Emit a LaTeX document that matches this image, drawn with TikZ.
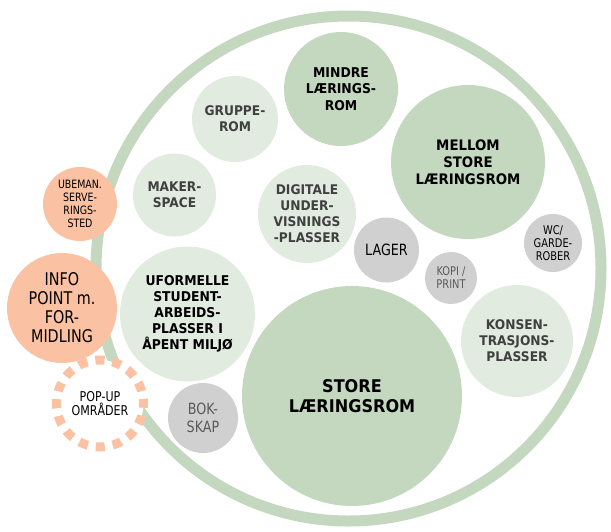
\documentclass[tikz,border=0pt]{standalone}
\usepackage{fontspec}
\setmainfont{DejaVu Sans}[FakeStretch=0.82]
\newfontfamily\bd{DejaVu Sans}[FakeStretch=0.92]

\definecolor{ringc}{RGB}{196,215,191}
\definecolor{darkg}{RGB}{196,215,191}
\definecolor{lightg}{RGB}{226,235,224}
\definecolor{greyc}{RGB}{208,208,208}
\definecolor{salmon}{RGB}{251,193,163}
\definecolor{txtdark}{RGB}{64,64,64}
\definecolor{txtgrey}{RGB}{90,90,90}

\tikzset{
  blob/.style={circle, inner sep=0pt, outer sep=0pt, draw=none},
  bigroom/.style={blob, fill=darkg},
  smallroom/.style={blob, fill=lightg},
  service/.style={blob, fill=greyc},
  outside/.style={blob, fill=salmon},
  popup/.style={circle, inner sep=0pt, fill=white, draw=salmon,
    line width=9pt, dash pattern=on 9.1pt off 8pt, dash phase=4.55pt},
  txt/.style={align=center, inner sep=0pt},
  bold/.style={txt, font=\bd\bfseries\fontsize{#1}{16}\selectfont},
}

\begin{document}
\begin{tikzpicture}[x=1pt, y=-1pt]
\useasboundingbox (0,0) rectangle (611,531);

% outer ring
\node[circle, draw=ringc, line width=11pt, minimum size=505pt, inner sep=0pt] (ring) at (348.5,268.5) {};

% rooms inside the ring
\node[bigroom, minimum size=114pt] (mindre) at (341,89) {};
\node[smallroom, minimum size=86pt] (gruppe) at (235,119) {};
\node[bigroom, minimum size=154pt] (mellom) at (468,162) {};
\node[smallroom, minimum size=83pt] (maker) at (174.5,195) {};
\node[smallroom, minimum size=98pt] (digitale) at (307,214) {};
\node[service, minimum size=65pt] (lager) at (386.5,250) {};
\node[service, minimum size=58pt] (wc) at (553,243) {};
\node[service, minimum size=52pt] (kopi) at (451,278) {};
\node[smallroom, minimum size=135pt] (uformelle) at (187.5,314) {};
\node[bigroom, minimum size=220pt] (store) at (352,396) {};
\node[smallroom, minimum size=112pt] (konsen) at (517,341) {};
\node[service, minimum size=70pt] (bokskap) at (203,418) {};

% areas outside the ring
\node[outside, minimum size=74pt] (ubeman) at (80,204) {};
\node[outside, minimum size=110pt] (info) at (62,308) {};
\node[popup, minimum size=87pt] (popup) at (100,403.5) {};

% labels
\node[txt, font=\bd\bfseries\fontsize{13.5}{16.5}\selectfont] (tmindre) at (mindre) {MINDRE\\LÆRINGS-\\ROM};
\node[txt, text=txtdark, font=\bd\bfseries\fontsize{13.3}{16}\selectfont] (tgruppe) at (gruppe) {GRUPPE-\\ROM};
\node[txt, font=\bd\bfseries\fontsize{14.5}{17}\selectfont] (tmellom) at (mellom) {MELLOM\\STORE\\LÆRINGSROM};
\node[txt, text=txtdark, font=\bd\bfseries\fontsize{13.3}{16}\selectfont] (tmaker) at (maker) {MAKER-\\SPACE};
\node[txt, text=txtdark, font=\bd\bfseries\fontsize{13.3}{16}\selectfont] (tdigitale) at (digitale) {DIGITALE\\UNDER-\\VISNINGS\\-PLASSER};
\node[txt, font=\fontsize{15.5}{18}\selectfont] (tlager) at (lager) {LAGER};
\node[txt, font=\fontsize{12}{13}\selectfont] (twc) at (wc) {WC/\\GARDE-\\ROBER};
\node[txt, text=txtgrey, font=\fontsize{12}{13}\selectfont] (tkopi) at (kopi) {KOPI /\\PRINT};
\node[txt, font=\bd\bfseries\fontsize{13.5}{16}\selectfont] (tuformelle) at (uformelle) {UFORMELLE\\STUDENT-\\ARBEIDS-\\PLASSER I\\ÅPENT MILJØ};
\node[txt, font=\bd\bfseries\fontsize{17.5}{20.7}\selectfont] (tstore) at (store) {STORE\\LÆRINGSROM};
\node[txt, text=txtdark, font=\bd\bfseries\fontsize{13.3}{16}\selectfont] (tkonsen) at (konsen) {KONSEN-\\TRASJONS-\\PLASSER};
\node[txt, text=txtgrey, font=\fontsize{15.5}{17.7}\selectfont] (tbokskap) at (bokskap) {BOK-\\SKAP};
\node[txt, font=\fontsize{11.5}{13}\selectfont] (tubeman) at (ubeman) {UBEMAN.\\SERVE-\\RINGS-\\STED};
\node[txt, font=\fontsize{17.5}{19}\selectfont] (tinfo) at (info) {INFO\\POINT m.\\FOR-\\MIDLING};
\node[txt, font=\fontsize{13.5}{14}\selectfont] (tpopup) at (popup) {POP-UP\\OMRÅDER};
\end{tikzpicture}
\end{document}
